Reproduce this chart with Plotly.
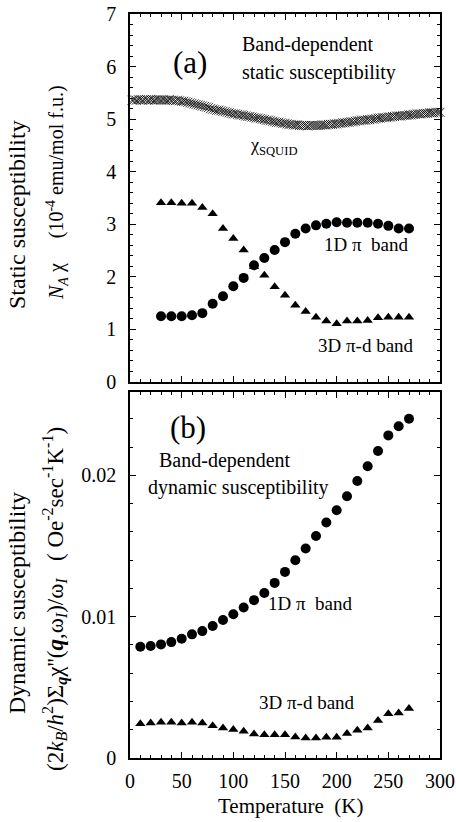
import plotly.graph_objects as go

# ---------------- data ----------------
# Panel (a): static susceptibility (10^-4 emu/mol f.u.)
T_squid = list(range(2, 301, 2))
chi_squid = [
    5.36, 5.37, 5.36, 5.37, 5.37, 5.36, 5.37, 5.37, 5.36, 5.37,
    5.37, 5.36, 5.37, 5.37, 5.36, 5.37, 5.36, 5.36, 5.37, 5.36,
    5.36, 5.35, 5.36, 5.35, 5.34, 5.34, 5.33, 5.32, 5.31, 5.30,
    5.29, 5.28, 5.27, 5.26, 5.25, 5.24, 5.23, 5.22, 5.20, 5.19,
    5.18, 5.17, 5.17, 5.16, 5.15, 5.14, 5.13, 5.12, 5.11, 5.10,
    5.10, 5.09, 5.08, 5.08, 5.07, 5.06, 5.05, 5.05, 5.04, 5.03,
    5.02, 5.02, 5.01, 5.00, 4.99, 4.98, 4.98, 4.97, 4.96, 4.95,
    4.94, 4.94, 4.93, 4.92, 4.92, 4.91, 4.90, 4.90, 4.89, 4.89,
    4.89, 4.88, 4.88, 4.88, 4.88, 4.87, 4.88, 4.88, 4.88, 4.88,
    4.88, 4.88, 4.89, 4.89, 4.89, 4.90, 4.90, 4.90, 4.91, 4.91,
    4.92, 4.92, 4.93, 4.93, 4.94, 4.94, 4.95, 4.95, 4.96, 4.97,
    4.97, 4.98, 4.98, 4.98, 4.99, 4.99, 5.00, 5.00, 5.01, 5.02,
    5.02, 5.03, 5.03, 5.03, 5.04, 5.04, 5.05, 5.05, 5.06, 5.06,
    5.06, 5.07, 5.07, 5.07, 5.08, 5.08, 5.09, 5.09, 5.10, 5.10,
    5.10, 5.11, 5.11, 5.11, 5.12, 5.12, 5.12, 5.13, 5.13, 5.13,
]

T_static = [30, 40, 50, 60, 70, 80, 90, 100, 110, 120, 130, 140, 150,
            160, 170, 180, 190, 200, 210, 220, 230, 240, 250, 260, 270]
chi_1d_static = [1.25, 1.25, 1.25, 1.27, 1.31, 1.49, 1.63, 1.82, 1.98, 2.22,
                 2.36, 2.51, 2.66, 2.82, 2.92, 2.98, 3.01, 3.04, 3.03, 3.03,
                 3.03, 3.01, 2.97, 2.92, 2.92]
chi_3d_static = [3.41, 3.41, 3.40, 3.40, 3.32, 3.20, 2.92, 2.73, 2.51, 2.19,
                 2.03, 1.81, 1.65, 1.46, 1.34, 1.23, 1.16, 1.11, 1.16, 1.16,
                 1.17, 1.22, 1.23, 1.23, 1.23]

# Panel (b): dynamic susceptibility (Oe^-2 sec^-1 K^-1)
T_dyn = [10, 20, 30, 40, 50, 60, 70, 80, 90, 100, 110, 120, 130, 140,
         150, 160, 170, 180, 190, 200, 210, 220, 230, 240, 250, 260, 270]
dyn_1d = [0.00787, 0.00792, 0.00804, 0.00820, 0.00844, 0.00875, 0.00898,
          0.00934, 0.00976, 0.01017, 0.01065, 0.01117, 0.01168, 0.01239,
          0.01317, 0.01399, 0.01482, 0.01571, 0.01666, 0.01753, 0.01852,
          0.01960, 0.02064, 0.02172, 0.02283, 0.02348, 0.02401]
dyn_3d = [0.00243, 0.00248, 0.00253, 0.00253, 0.00248, 0.00253, 0.00248,
          0.00229, 0.00213, 0.00201, 0.00189, 0.00170, 0.00165, 0.00165,
          0.00165, 0.00149, 0.00142, 0.00142, 0.00147, 0.00147, 0.00173,
          0.00196, 0.00213, 0.00265, 0.00314, 0.00319, 0.00350]

x_ticks = [0, 50, 100, 150, 200, 250, 300]

# ---------------- figure ----------------
FONT = "Liberation Serif"
W, H = 456, 822
ML, MR, MT, MB = 130, 16, 14, 64
PW, PH = W - ML - MR, H - MT - MB


def px(xp):
    return (xp - ML) / PW


def py(yp):
    return (H - MB - yp) / PH


fig = go.Figure()

# top panel (xaxis / yaxis)
fig.add_trace(go.Scatter(x=T_squid, y=chi_squid, mode="markers", xaxis="x", yaxis="y",
                         marker=dict(symbol="x-thin", size=9, color="black",
                                     line=dict(width=0.8, color="black")),
                         cliponaxis=False, showlegend=False))
fig.add_trace(go.Scatter(x=T_static, y=chi_3d_static, mode="markers", xaxis="x", yaxis="y",
                         marker=dict(symbol="triangle-up", size=9, color="black"),
                         showlegend=False))
fig.add_trace(go.Scatter(x=T_static, y=chi_1d_static, mode="markers", xaxis="x", yaxis="y",
                         marker=dict(symbol="circle", size=10, color="black"),
                         showlegend=False))

# bottom panel (xaxis2 / yaxis2)
fig.add_trace(go.Scatter(x=T_dyn, y=dyn_3d, mode="markers", xaxis="x2", yaxis="y2",
                         marker=dict(symbol="triangle-up", size=9, color="black"),
                         showlegend=False))
fig.add_trace(go.Scatter(x=T_dyn, y=dyn_1d, mode="markers", xaxis="x2", yaxis="y2",
                         marker=dict(symbol="circle", size=10, color="black"),
                         showlegend=False))

axis_common = dict(showline=True, linecolor="black", linewidth=1.5, mirror="allticks",
                   ticks="inside", tickcolor="black", showgrid=False, zeroline=False,
                   automargin=False,
                   tickfont=dict(family=FONT, size=20, color="black"))

top_dom = [(H - MB - 382) / PH, 1.0]
bot_dom = [0.0, (H - MB - 392) / PH]

fig.update_layout(
    template="none",
    width=W, height=H,
    margin=dict(l=ML, r=MR, t=MT, b=MB, autoexpand=False),
    paper_bgcolor="white", plot_bgcolor="white",
    font=dict(family=FONT, color="black"),
    xaxis=dict(axis_common, range=[0, 300], tickvals=x_ticks, showticklabels=False,
               ticklen=6, minor=dict(dtick=10, ticks="inside", ticklen=3, tickcolor="black"),
               anchor="y", domain=[0, 1]),
    yaxis=dict(axis_common, range=[0, 7], dtick=1, ticklen=6, ticklabelstandoff=8,
               minor=dict(dtick=0.2, ticks="inside", ticklen=3, tickcolor="black"),
               anchor="x", domain=top_dom),
    xaxis2=dict(axis_common, range=[0, 300], tickvals=x_ticks, ticklen=6,
                minor=dict(dtick=10, ticks="inside", ticklen=3, tickcolor="black"),
                anchor="y2", domain=[0, 1], ticklabelstandoff=4),
    yaxis2=dict(axis_common, range=[0, 0.0259], tickvals=[0, 0.01, 0.02],
                ticktext=["0", "0.01", "0.02"], ticklen=6, ticklabelstandoff=8,
                minor=dict(dtick=0.002, ticks="inside", ticklen=3, tickcolor="black"),
                anchor="x2", domain=bot_dom),
)


def note(text, x, y, size, xanchor="left", angle=0):
    fig.add_annotation(text=text, xref="paper", yref="paper", x=px(x), y=py(y),
                       xanchor=xanchor, yanchor="middle", showarrow=False,
                       textangle=angle, font=dict(family=FONT, size=size, color="black"))


NB = "\u00a0"
note("(a)", 190, 62, 31, "center")
note("Band-dependent", 240, 45, 20)
note("static susceptibility", 240, 72, 20)
note("χ<sub>SQUID</sub>", 248, 147, 18)
note("1D π" + NB + NB + "band", 322, 245, 19)
note("3D π-d band", 316, 345, 19)

note("(b)", 188, 428, 31, "center")
note("Band-dependent", 157, 460, 20)
note("dynamic susceptibility", 146, 487, 20)
note("1D π" + NB + NB + "band", 266, 603, 19)
note("3D π-d band", 257, 702, 19)

note("Temperature" + NB + NB + "(K)", 290, 806, 21, "center")

note("Static susceptibility", 17, 215, 24, "center", -90)
note("<i>N<sub>A</sub></i>" + NB + "χ" + NB * 5 + "(10<sup>-4</sup> emu/mol f.u.)",
     57, 193, 20, "center", -90)
note("Dynamic susceptibility", 17, 603, 24, "center", -90)
note("(2<i>k<sub>B</sub></i>/<i>h</i><sup>2</sup>)Σ<sub><b><i>q</i></b></sub>χ''(<b><i>q</i></b>,ω<sub><i>I</i></sub>)/ω<sub><i>I</i></sub>"
     + NB * 3 + "(" + NB + "Oe<sup>-2</sup>sec<sup>-1</sup>K<sup>-1</sup>)",
     55, 599, 23, "center", -90)

fig.write_html("out.html", config={"displayModeBar": False},
               post_script="document.body.style.margin='0';document.body.style.overflow='hidden';")
